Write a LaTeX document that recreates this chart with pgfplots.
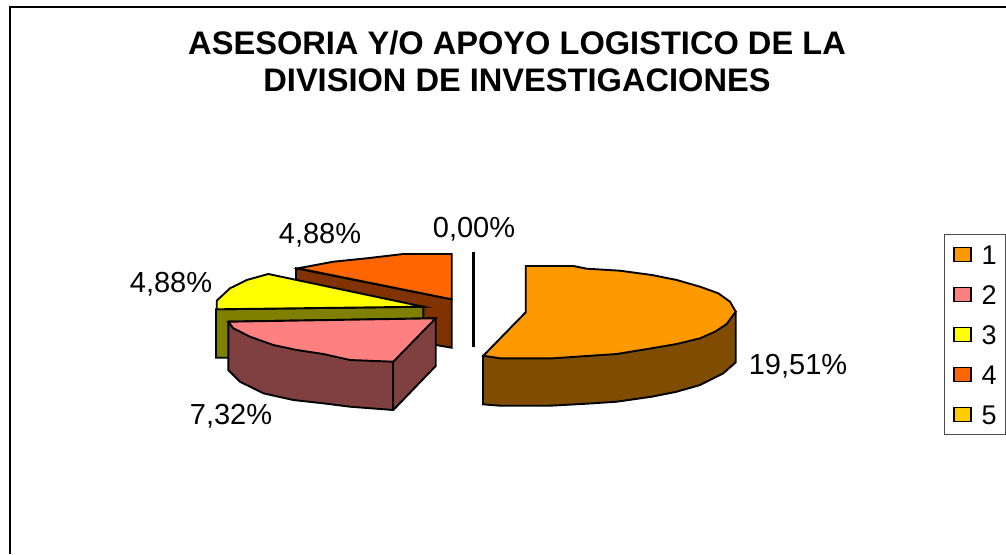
\documentclass[border=0pt]{standalone}
\usepackage{fontspec}
\setmainfont{Liberation Sans}
\usepackage{pgfplots}
\pgfplotsset{compat=1.18}
\definecolor{c1}{HTML}{FF9900}\definecolor{s1}{HTML}{804D00}
\definecolor{c2}{HTML}{FF8080}\definecolor{s2}{HTML}{804040}
\definecolor{c3}{HTML}{FFFF00}\definecolor{s3}{HTML}{808000}
\definecolor{c4}{HTML}{FF6600}\definecolor{s4}{HTML}{803300}
\definecolor{c5}{HTML}{FFCC00}
\begin{document}
\begin{tikzpicture}
\path[use as bounding box] (0,0) rectangle (1006pt,554pt);
\begin{axis}[
  at={(0,0)},anchor=south west,
  scale only axis,width=1006pt,height=554pt,
  xmin=0,xmax=1006,ymin=0,ymax=554,y dir=reverse,
  hide axis,clip=false,
  every axis plot/.append style={no markers,sharp plot},
  pie/.style={draw=black,line width=1.9pt,line join=miter,fill=#1,forget plot},
  legend cell align=left,
  legend style={at={(axis cs:944,234)},anchor=north west,draw=black!70,line width=1pt,
    fill=white,font=\fontsize{27}{27}\selectfont,inner xsep=8.5pt,inner ysep=10.5pt,
    row sep=21pt,
    /tikz/every odd column/.append style={column sep=10pt},
    nodes={inner sep=0pt,text height=19pt,text depth=0pt,anchor=west}},
]
% chart frame
\addplot[black,line width=1.3pt,forget plot] coordinates {(10,554)(10,7)(1006,7)};
% series 4 side and top
\addplot[pie=s4] coordinates {(296,268.3)(296,280)(423,340)(436,345)(451.7,347.7)(451.7,299.3)} -- cycle;
\addplot[pie=c4] coordinates {(298,268.3)(333.3,261.7)(366.7,258.3)(403.3,254)(451.7,254)(451.7,299.3)} -- cycle;
% series 3 side and top
\addplot[pie=s3] coordinates {(216,309.3)(216,357.7)(423.3,357.7)(423.3,306.7)} -- cycle;
\addplot[pie=c3] coordinates {(216.7,300.7)(230,288.3)(246.7,280)(268.3,274)(423.3,306.7)(216.7,309.3)} -- cycle;
% series 2 side and top
\addplot[pie=s2] coordinates {(228.3,321.7)(228.3,370)(240,381.7)(263.3,393.3)(293.3,400)(323.3,403.3)(350,406.7)(393.3,410)(435.7,366)(435.7,318.3)} -- cycle;
\addplot[pie=c2] coordinates {(228.3,321.7)(435.7,318.3)(393.3,361.7)(350,360)(323.3,354)(296.7,350)(273.3,345)(250,336.7)(233.3,328.3)} -- cycle;
\addplot[black,line width=1.9pt,forget plot] coordinates {(393.3,361.7)(393.3,410)};
% series 5 (0,00 %)
\addplot[black,line width=2.4pt,forget plot] coordinates {(473.3,251.7)(473.3,346.7)};
% series 1 side and top
\addplot[pie=s1] coordinates {(483,355.7)(483,404.3)(500,405.7)(550,405.7)(586.7,403.7)(616.7,401.7)(651.7,396.7)(676.7,391.7)(700,385)(723.3,373.3)(735.7,362.3)(735.7,311.7)} -- cycle;
\addplot[pie=c1] coordinates {(525.7,266)(573.3,266)(586.7,268.7)(620,270.7)(651.7,275)(676.7,280)(700,286.7)(718.3,293.3)(730,301.7)(735.7,311.7)(726.7,324)(715,331.7)(700,338.3)(676.7,344)(651.7,348.3)(616.7,354)(586.7,356)(553.3,358.3)(500,358.3)(483.3,355.7)(525.7,312.3)} -- cycle;
% legend
\pgfplotsset{legend image code/.code={\draw[#1,line width=1.5pt,draw=black] (0pt,-7pt) rectangle (17pt,7pt);}}
\addlegendimage{fill=c1}\addlegendentry{1}
\addlegendimage{fill=c2}\addlegendentry{2}
\addlegendimage{fill=c3}\addlegendentry{3}
\addlegendimage{fill=c4}\addlegendentry{4}
\addlegendimage{fill=c5}\addlegendentry{5}
% labels
\node[font=\fontsize{32.6}{37}\selectfont\bfseries,align=center] at (axis cs:517,61) {ASESORIA Y/O APOYO LOGISTICO DE LA\\DIVISION DE INVESTIGACIONES};
\node[font=\fontsize{29}{29}\selectfont] at (axis cs:798,366) {19,51\%};
\node[font=\fontsize{29}{29}\selectfont] at (axis cs:231,416) {7,32\%};
\node[font=\fontsize{29}{29}\selectfont] at (axis cs:171,284) {4,88\%};
\node[font=\fontsize{29}{29}\selectfont] at (axis cs:320,235) {4,88\%};
\node[font=\fontsize{29}{29}\selectfont] at (axis cs:474,229) {0,00\%};
\end{axis}
\end{tikzpicture}
\end{document}
